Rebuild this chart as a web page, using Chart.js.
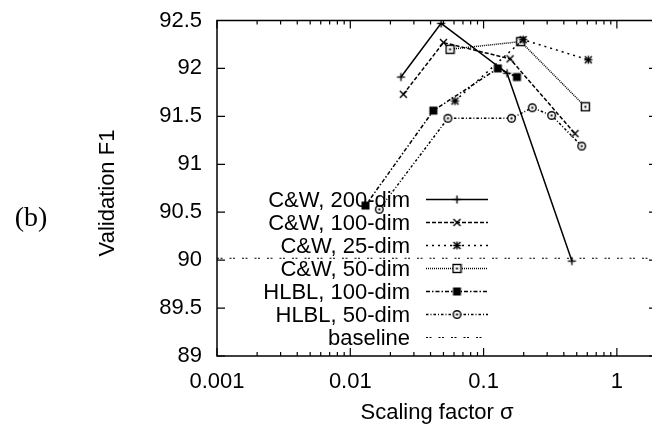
<!DOCTYPE html>
<html>
<head>
<meta charset="utf-8">
<script src="https://cdn.jsdelivr.net/npm/chart.js@4"></script>
<style>
  html, body { margin: 0; padding: 0; background: #fff; }
  #f1Chart { display: block; }
</style>
</head>
<body>
<canvas id="f1Chart" width="652" height="426"></canvas>
<script>
// Validation F1 against scaling factor sigma (log x axis)
const seriesLabels = ['C&W, 200-dim', 'C&W, 100-dim', 'C&W, 25-dim', 'C&W, 50-dim', 'HLBL, 100-dim', 'HLBL, 50-dim', 'baseline'];

const cw200Sigma = [0.024, 0.048, 0.15, 0.46];
const cw200F1 = [91.91, 92.47, 91.95, 89.99];

const cw100Sigma = [0.025, 0.05, 0.158, 0.485];
const cw100F1 = [91.73, 92.27, 92.1, 91.32];

const cw25Sigma = [0.061, 0.198, 0.61];
const cw25F1 = [91.66, 92.3, 92.09];

const cw50Sigma = [0.056, 0.19, 0.58];
const cw50F1 = [92.2, 92.28, 91.6];

const hlbl100Sigma = [0.013, 0.042, 0.128, 0.178];
const hlbl100F1 = [90.57, 91.56, 92.0, 91.91];

const hlbl50Sigma = [0.0165, 0.054, 0.162, 0.232, 0.324, 0.545];
const hlbl50F1 = [90.53, 91.48, 91.48, 91.59, 91.51, 91.19];

const baselineSigma = [0.001, 2];
const baselineF1 = [90.02, 90.02];

const xTickValues = [0.001, 0.01, 0.1, 1];
const xTickLabels = ['0.001', '0.01', '0.1', '1'];
const yTickValues = [89, 89.5, 90, 90.5, 91, 91.5, 92, 92.5];
const yTickLabels = ['89', '89.5', '90', '90.5', '91', '91.5', '92', '92.5'];

const FONT = 'Liberation Sans, Arial, sans-serif';

// small gnuplot-like point symbols
function makeMarker(kind) {
    const c = document.createElement('canvas');
    c.width = 11;
    c.height = 11;
    const g = c.getContext('2d');
    const m = 5.5;
    g.strokeStyle = '#000';
    g.fillStyle = '#000';
    g.lineWidth = 1.4;
    const seg = (x1, y1, x2, y2) => { g.beginPath(); g.moveTo(x1, y1); g.lineTo(x2, y2); g.stroke(); };
    if (kind === 'plus' || kind === 'star') { seg(m, 1.5, m, 9.5); seg(1.5, m, 9.5, m); }
    if (kind === 'cross' || kind === 'star') { seg(2, 2, 9, 9); seg(9, 2, 2, 9); }
    if (kind === 'box') {
        g.fillStyle = '#fff'; g.fillRect(1.5, 1.5, 8, 8);
        g.strokeRect(1.5, 1.5, 8, 8);
        g.fillStyle = '#000'; g.fillRect(4.5, 4.5, 2, 2);
    }
    if (kind === 'fbox') g.fillRect(1.5, 1.5, 8, 8);
    if (kind === 'circle') {
        g.fillStyle = '#fff';
        g.beginPath(); g.arc(m, m, 3.8, 0, Math.PI * 2); g.fill(); g.stroke();
        g.fillStyle = '#000'; g.fillRect(4.5, 4.5, 2, 2);
    }
    return c;
}

const pts = (xs, ys) => xs.map((x, i) => ({ x: x, y: ys[i] }));

const seriesData = [
    pts(cw200Sigma, cw200F1),
    pts(cw100Sigma, cw100F1),
    pts(cw25Sigma, cw25F1),
    pts(cw50Sigma, cw50F1),
    pts(hlbl100Sigma, hlbl100F1),
    pts(hlbl50Sigma, hlbl50F1),
    pts(baselineSigma, baselineF1)
];
const dashes = [[], [4, 2], [2, 4], [1, 1], [4, 2, 1.5, 2], [2.5, 2, 1, 2], [2, 1.5, 2, 7]];
const markers = ['plus', 'cross', 'star', 'box', 'fbox', 'circle', null];

const datasets = seriesData.map((d, i) => ({
    label: seriesLabels[i],
    data: d,
    borderColor: '#000',
    backgroundColor: '#000',
    borderWidth: i === 6 ? 1.2 : 1.5,
    borderDash: dashes[i],
    pointStyle: markers[i] ? makeMarker(markers[i]) : false,
    pointRadius: markers[i] ? 5 : 0,
    fill: false,
    tension: 0
}));

// the plot box runs a few px past the right edge of the picture (x max = 2)
const stretchPlugin = {
    id: 'stretch',
    afterLayout(chart) {
        const xs = chart.scales.x;
        xs.right = 657;
        xs.width = xs.right - xs.left;
        xs.configure();
        chart.chartArea.right = 657;
        chart.chartArea.width = 657 - chart.chartArea.left;
    }
};

// frame with inward ticks, y title and the "(b)" panel tag
const framePlugin = {
    id: 'frame',
    afterDraw(chart) {
        const ctx = chart.ctx;
        const a = chart.chartArea;
        const xs = chart.scales.x;
        const ys = chart.scales.y;
        ctx.save();
        ctx.strokeStyle = '#000';
        ctx.lineWidth = 1.5;
        ctx.strokeRect(a.left, a.top, a.right - a.left, a.bottom - a.top);
        ctx.lineWidth = 1.2;
        ctx.beginPath();
        xTickValues.forEach(d => {
            for (let m = 1; m <= 9; m++) {
                const v = m * d;
                if (v > xs.max + 1e-9) break;
                const px = xs.getPixelForValue(v);
                const len = m === 1 ? 8 : 4;
                ctx.moveTo(px, a.bottom); ctx.lineTo(px, a.bottom - len);
                ctx.moveTo(px, a.top); ctx.lineTo(px, a.top + len);
            }
        });
        yTickValues.forEach(v => {
            const py = ys.getPixelForValue(v);
            ctx.moveTo(a.left, py); ctx.lineTo(a.left + 8, py);
            ctx.moveTo(a.right, py); ctx.lineTo(a.right - 8, py);
        });
        ctx.stroke();
        ctx.fillStyle = '#000';
        ctx.textAlign = 'center';
        ctx.textBaseline = 'middle';
        ctx.save();
        ctx.translate(108, 193);
        ctx.rotate(-Math.PI / 2);
        ctx.font = '22px ' + FONT;
        ctx.fillText('Validation F1', 0, 0);
        ctx.restore();
        ctx.font = '28px "Liberation Serif", "Times New Roman", serif';
        ctx.fillText('(b)', 31, 219);
        ctx.restore();
    }
};

// key drawn inside the plot, text right-aligned with the sample to its right
const keyPlugin = {
    id: 'key',
    afterDatasetsDraw(chart) {
        const ctx = chart.ctx;
        ctx.save();
        ctx.font = '22px ' + FONT;
        ctx.fillStyle = '#000';
        ctx.textAlign = 'right';
        ctx.textBaseline = 'middle';
        chart.data.datasets.forEach((ds, i) => {
            const y = 199.5 + i * 23;
            ctx.fillText(ds.label, 410, y + 1);
            ctx.strokeStyle = '#000';
            ctx.lineWidth = ds.borderWidth;
            ctx.setLineDash(ds.borderDash);
            ctx.beginPath();
            ctx.moveTo(426, y); ctx.lineTo(488, y);
            ctx.stroke();
            ctx.setLineDash([]);
            if (ds.pointStyle) {
                const img = ds.pointStyle;
                ctx.drawImage(img, 457 - img.width / 2, y - img.height / 2);
            }
        });
        ctx.restore();
    }
};

const ctx = document.getElementById('f1Chart').getContext('2d');
const f1Chart = new Chart(ctx, {
    type: 'line',
    data: { datasets: datasets },
    options: {
        responsive: false,
        animation: false,
        devicePixelRatio: 1,
        layout: { autoPadding: false, padding: { left: 0, top: 20.5, right: 0, bottom: 0 } },
        plugins: {
            legend: { display: false },
            tooltip: { enabled: false }
        },
        scales: {
            x: {
                type: 'logarithmic',
                min: 0.001,
                max: 2,
                grid: { display: false, drawTicks: false },
                border: { display: false },
                afterBuildTicks: s => { s.ticks = xTickValues.map(v => ({ value: v })); },
                afterFit: s => { s.height = 70; s.paddingLeft = 0; s.paddingRight = 0; },
                ticks: {
                    autoSkip: false,
                    maxRotation: 0,
                    padding: 13,
                    color: '#000',
                    font: { family: FONT, size: 22 },
                    callback: (v, i) => xTickLabels[i]
                },
                title: {
                    display: true,
                    text: 'Scaling factor σ',
                    color: '#000',
                    font: { family: FONT, size: 22 },
                    padding: 0
                }
            },
            y: {
                min: 89,
                max: 92.5,
                grid: { display: false, drawTicks: false },
                border: { display: false },
                afterBuildTicks: s => { s.ticks = yTickValues.map(v => ({ value: v })); },
                afterFit: s => { s.width = 217; s.paddingTop = 0; s.paddingBottom = 0; },
                ticks: {
                    autoSkip: false,
                    padding: 15,
                    color: '#000',
                    font: { family: FONT, size: 22 },
                    callback: (v, i) => yTickLabels[i]
                }
            }
        }
    },
    plugins: [stretchPlugin, keyPlugin, framePlugin]
});
</script>
</body>
</html>
